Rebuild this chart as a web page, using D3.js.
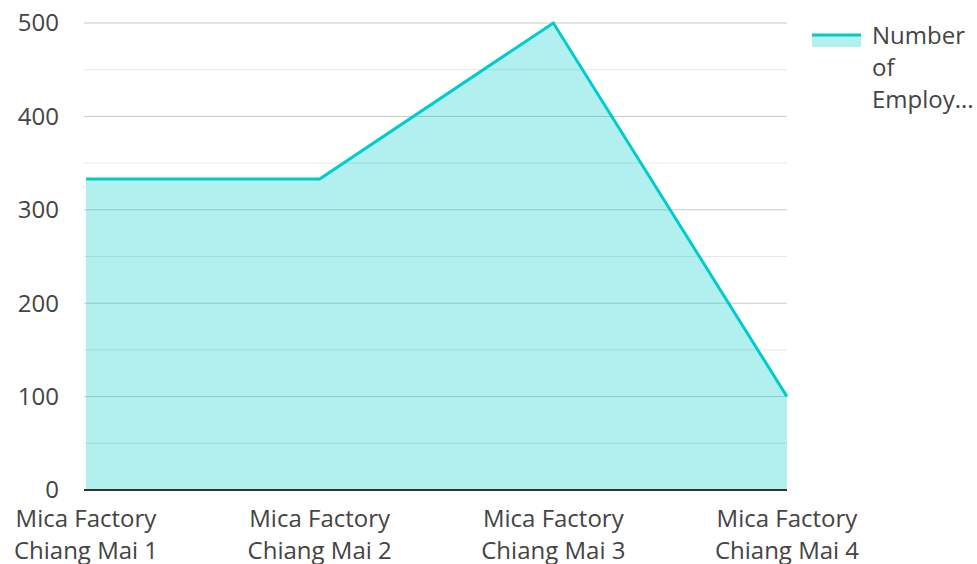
<!DOCTYPE html>
<html lang="en">
<head>
<meta charset="UTF-8">
<title>Number of Employees</title>
<script src="https://d3js.org/d3.v7.min.js"></script>
<style>
  body { margin: 0; background: #fff; }
  text { font-family: "Open Sans", "Noto Sans", sans-serif; fill: #444; }
</style>
</head>
<body>
<svg id="chart" width="977" height="564"></svg>
<script>
// data
var factories = ["Mica Factory Chiang Mai 1", "Mica Factory Chiang Mai 2", "Mica Factory Chiang Mai 3", "Mica Factory Chiang Mai 4"];
var employees = [333, 333, 500, 100];
var yTicks = [0, 100, 200, 300, 400, 500];
var seriesName = ["Number", "of", "Employ..."];

var svg = d3.select("#chart");
var plotLeft = 86, plotRight = 787, plotTop = 23, plotBottom = 490;
var fs = 24;

var x = d3.scalePoint().domain(factories).range([plotLeft, plotRight]);
var y = d3.scaleLinear().domain([0, 500]).range([plotBottom, plotTop]);

// minor grid
svg.append("g").selectAll("line")
  .data(d3.range(50, 500, 100))
  .enter().append("line")
  .attr("x1", plotLeft - 2).attr("x2", plotRight)
  .attr("y1", d => y(d)).attr("y2", d => y(d))
  .attr("stroke", "#e6e6e6").attr("stroke-width", 1);

// major grid
svg.append("g").selectAll("line")
  .data(yTicks.slice(1))
  .enter().append("line")
  .attr("x1", plotLeft - 2).attr("x2", plotRight)
  .attr("y1", d => y(d)).attr("y2", d => y(d))
  .attr("stroke", "#c8c8c8").attr("stroke-width", 1);

// area + line
var area = d3.area().x(function(d, i){ return x(factories[i]); }).y0(y(0)).y1(function(d){ return y(d); });
var line = d3.line().x(function(d, i){ return x(factories[i]); }).y(function(d){ return y(d); });

svg.append("path").datum(employees)
  .attr("d", area)
  .attr("fill", "rgba(0,204,204,0.3)");

svg.append("path").datum(employees)
  .attr("d", line)
  .attr("fill", "none")
  .attr("stroke", "#00cccc")
  .attr("stroke-width", 3);

// zero line
svg.append("line")
  .attr("x1", plotLeft - 2).attr("x2", plotRight)
  .attr("y1", y(0)).attr("y2", y(0))
  .attr("stroke", "#333").attr("stroke-width", 2);

// y labels
svg.append("g").selectAll("text")
  .data(yTicks)
  .enter().append("text")
  .attr("x", 59)
  .attr("y", d => y(d))
  .attr("dy", "0.35em")
  .attr("text-anchor", "end")
  .attr("font-size", fs)
  .text(d => d);

// x labels (two lines)
var xl = svg.append("g").selectAll("text")
  .data(factories)
  .enter().append("text")
  .attr("text-anchor", "middle")
  .attr("font-size", fs);
xl.append("tspan")
  .attr("x", d => x(d)).attr("y", 519).attr("dy", "0.35em")
  .text(d => d.split(" ").slice(0, 2).join(" "));
xl.append("tspan")
  .attr("x", d => x(d)).attr("y", 551).attr("dy", "0.35em")
  .text(d => d.split(" ").slice(2).join(" "));

// legend
var lg = svg.append("g");
lg.append("rect").attr("x", 812).attr("y", 35).attr("width", 49).attr("height", 12)
  .attr("fill", "rgba(0,204,204,0.3)");
lg.append("line").attr("x1", 812).attr("x2", 861).attr("y1", 35).attr("y2", 35)
  .attr("stroke", "#00cccc").attr("stroke-width", 3);
lg.selectAll("text.leg")
  .data(seriesName)
  .enter().append("text")
  .attr("class", "leg")
  .attr("x", 872)
  .attr("y", (d, i) => 36 + i * 32)
  .attr("dy", "0.35em")
  .attr("font-size", fs)
  .text(d => d);
</script>
</body>
</html>
